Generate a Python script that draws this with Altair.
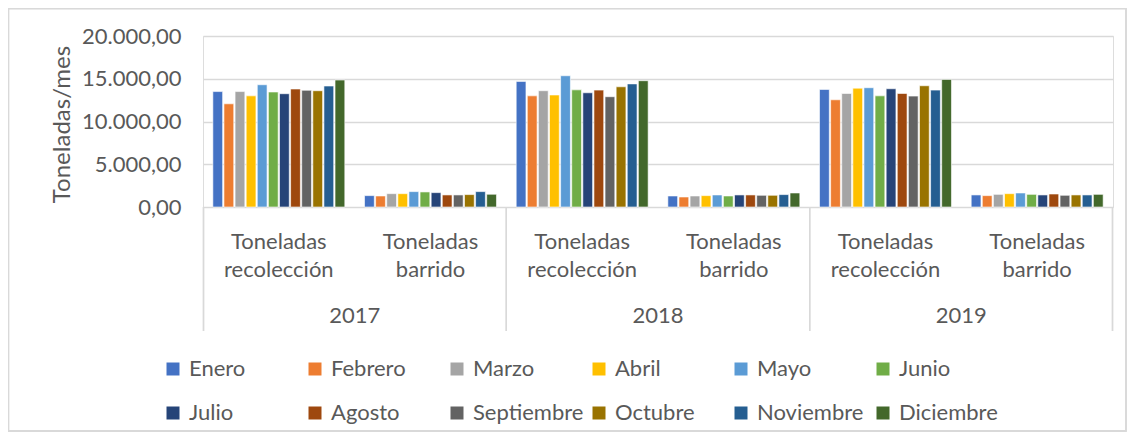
import altair as alt
import pandas as pd

years = ["2017", "2018", "2019"]
tipos = ["Toneladas recolección", "Toneladas barrido"]
tipo_labels = ["Toneladas\nrecolección", "Toneladas\nbarrido"]
meses = ["Enero", "Febrero", "Marzo", "Abril", "Mayo", "Junio",
         "Julio", "Agosto", "Septiembre", "Octubre", "Noviembre", "Diciembre"]
colors = ["#4472C4", "#ED7D31", "#A5A5A5", "#FFC000", "#5B9BD5", "#70AD47",
          "#264478", "#9E480E", "#636363", "#997300", "#255E91", "#43682B"]

rec_2017 = [13500, 12070, 13500, 13000, 14300, 13450, 13250, 13800, 13650, 13600, 14150, 14850]
bar_2017 = [1330, 1290, 1560, 1560, 1800, 1760, 1680, 1410, 1410, 1450, 1800, 1490]
rec_2018 = [14690, 13000, 13600, 13100, 15350, 13700, 13360, 13670, 12900, 14060, 14400, 14770]
bar_2018 = [1290, 1170, 1290, 1330, 1410, 1290, 1410, 1410, 1370, 1370, 1450, 1640]
rec_2019 = [13750, 12540, 13280, 13900, 13950, 13000, 13830, 13280, 12970, 14180, 13670, 14920]
bar_2019 = [1410, 1330, 1480, 1560, 1640, 1480, 1410, 1520, 1370, 1410, 1410, 1480]

series = {
    ("2017", tipos[0]): rec_2017, ("2017", tipos[1]): bar_2017,
    ("2018", tipos[0]): rec_2018, ("2018", tipos[1]): bar_2018,
    ("2019", tipos[0]): rec_2019, ("2019", tipos[1]): bar_2019,
}

cats = [f"{y}|{t}" for y in years for t in tipos]
rows = []
for (y, t), vals in series.items():
    for m, v in zip(meses, vals):
        rows.append({"cat": f"{y}|{t}", "mes": m, "valor": v})
df = pd.DataFrame(rows)

lab_df = pd.DataFrame({"cat": cats,
                       "label": [tipo_labels[i % 2] for i in range(len(cats))]})
year_df = pd.DataFrame({"cat": [f"{y}|{tipos[0]}" for y in years], "label": years})

W, H = 910, 171
FONT = "Lato"
GREY = "#595959"
LINE = "#D9D9D9"
FS = 22

xscale = alt.Scale(domain=cats, paddingInner=0.13, paddingOuter=0.065)

bars = alt.Chart(df).mark_bar(stroke="white", strokeWidth=0.6).encode(
    x=alt.X("cat:N", sort=cats, scale=xscale, axis=None),
    xOffset=alt.XOffset("mes:N", sort=meses, scale=alt.Scale(domain=meses, paddingInner=0.12)),
    y=alt.Y("valor:Q", scale=alt.Scale(domain=[0, 20000]),
            axis=alt.Axis(values=[0, 5000, 10000, 15000, 20000], format=",.2f",
                          labelFont=FONT, labelFontSize=FS, labelColor=GREY,
                          domain=False, ticks=False, gridColor=LINE, gridWidth=1.3,
                          labelPadding=22, title="Toneladas/mes", titleFont=FONT,
                          titleFontSize=24, titleFontWeight="normal", titleColor=GREY,
                          titleX=-141, titleY=88, titleAlign="center",
                          titleBaseline="middle", titleAngle=270)),
    color=alt.Color("mes:N", sort=meses, scale=alt.Scale(domain=meses, range=colors),
                    legend=alt.Legend(title=None, orient="none", legendX=-41, legendY=322,
                                      direction="horizontal",
                                      columns=6, gridAlign="all", columnPadding=4,
                                      rowPadding=22, symbolType="square", symbolSize=169,
                                      symbolStrokeWidth=0, labelFont=FONT, labelFontSize=FS,
                                      labelColor=GREY, labelOffset=5, labelLimit=200)),
)

cat_text = alt.Chart(lab_df).mark_text(
    font=FONT, fontSize=FS, color=GREY, lineBreak="\n", lineHeight=28,
    baseline="middle", align="center"
).encode(x=alt.X("cat:N", sort=cats, scale=xscale, axis=None),
         y=alt.value(206), text="label:N")

year_text = alt.Chart(year_df).mark_text(
    font=FONT, fontSize=FS, color=GREY, baseline="middle", align="center",
    dx=(W / 6) / 2
).encode(x=alt.X("cat:N", sort=cats, scale=xscale, axis=None),
         y=alt.value(280), text="label:N")

layers = [bars, cat_text, year_text]
for px in [0.5, W / 3, 2 * W / 3, W - 0.5]:
    layers.append(alt.Chart(year_df).mark_rule(color=LINE, strokeWidth=1.3).encode(
        x=alt.value(px), y=alt.value(H), y2=alt.value(295)))

border = alt.Chart(year_df).mark_rect(fillOpacity=0, stroke=LINE, strokeWidth=1.3).encode(
    x=alt.value(-194.5), x2=alt.value(1119 - 195 - 1), y=alt.value(-27.5), y2=alt.value(424 - 28 - 1))
layers.append(border)

chart = alt.layer(*layers).properties(
    width=W, height=H, autosize="none",
    padding={"left": 195, "top": 28, "right": 14, "bottom": 225},
).configure_view(stroke=None).configure(
    locale={"number": {"decimal": ",", "thousands": ".", "grouping": [3], "currency": ["", ""]}}
)

chart.save("out.html", embed_options={"renderer": "svg", "actions": False})
